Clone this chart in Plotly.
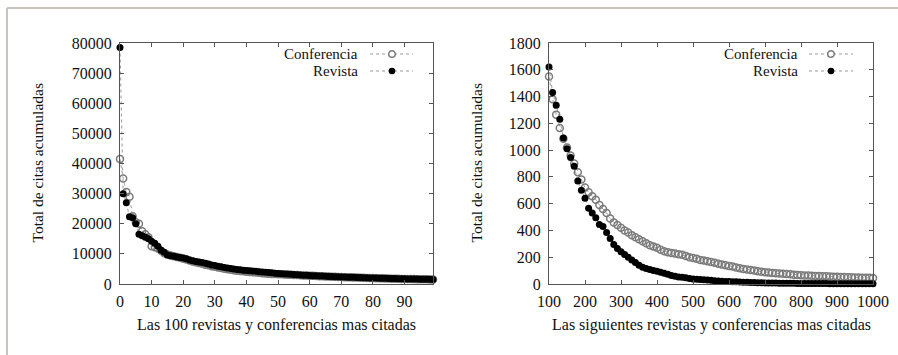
import plotly.graph_objects as go

W, H = 898, 355

# ---------- data ----------
left_x = list(range(0, 100))
left_conf = [41500, 35000, 30500, 29000, 22500, 20500, 20000, 17500, 16500, 15500,
             12500, 12200, 11800, 11000, 10200, 9800, 9500, 9200, 9000, 8700,
             8400, 8100, 7800, 7500, 7200, 7000, 6700, 6400, 6200, 5900,
             5700, 5500, 5300, 5100, 4900, 4700, 4550, 4400, 4300, 4200,
             4100, 4000, 3900, 3800, 3700, 3600, 3500, 3400, 3350, 3300,
             3250, 3200, 3150, 3100, 3050, 3000, 2950, 2900, 2850, 2800,
             2750, 2700, 2650, 2600, 2560, 2520, 2480, 2440, 2400, 2360,
             2320, 2280, 2240, 2200, 2160, 2120, 2080, 2050, 2020, 1990,
             1960, 1930, 1900, 1870, 1840, 1810, 1780, 1750, 1720, 1700,
             1680, 1660, 1640, 1620, 1600, 1580, 1560, 1540, 1520, 1500]
left_rev = [78500, 30000, 27000, 22300, 22000, 20000, 16500, 16000, 15500, 15000,
            14200, 13500, 12500, 11200, 10500, 9600, 9400, 9200, 9000, 8800,
            8600, 8400, 8000, 7700, 7500, 7300, 7100, 6900, 6600, 6300,
            6100, 5900, 5700, 5500, 5300, 5150, 5000, 4850, 4700, 4600,
            4500, 4400, 4300, 4200, 4100, 4000, 3900, 3800, 3700, 3600,
            3500, 3420, 3350, 3280, 3200, 3130, 3060, 3000, 2940, 2880,
            2820, 2770, 2720, 2670, 2620, 2570, 2520, 2480, 2440, 2400,
            2360, 2320, 2280, 2240, 2200, 2160, 2130, 2100, 2060, 2030,
            2000, 1970, 1940, 1910, 1880, 1850, 1820, 1790, 1760, 1740,
            1720, 1700, 1670, 1650, 1630, 1600, 1580, 1560, 1540, 1520]

right_x = list(range(100, 1001, 10))
right_conf = [1550, 1380, 1265, 1165, 1085, 1020, 960, 900, 835, 780,
              720, 685, 655, 630, 590, 560, 530, 490, 460, 440,
              420, 400, 385, 365, 350, 335, 320, 305, 290, 280,
              270, 255, 245, 238, 232, 228, 222, 218, 210, 200,
              195, 188, 180, 175, 170, 165, 158, 152, 146, 140,
              135, 130, 124, 118, 112, 108, 104, 100, 96, 92,
              88, 85, 82, 80, 78, 76, 74, 72, 70, 68,
              66, 64, 63, 62, 60, 59, 58, 57, 56, 55,
              54, 53, 52, 51, 50, 49, 48, 47, 46, 46, 45]
right_rev = [1620, 1430, 1335, 1230, 1090, 1010, 945, 880, 770, 700,
             640, 565, 530, 495, 445, 430, 385, 340, 295, 265,
             240, 220, 200, 180, 160, 140, 125, 115, 108, 100,
             95, 88, 80, 72, 64, 58, 53, 50, 46, 42,
             38, 36, 34, 32, 30, 28, 25, 23, 21, 19,
             18, 17, 16, 15, 14, 13, 12, 11, 10, 9,
             8, 8, 7, 7, 6, 6, 5, 5, 5, 4,
             4, 4, 4, 3, 3, 3, 3, 3, 2, 2,
             2, 2, 2, 2, 2, 1, 1, 1, 1, 1, 1]

left_xticks = [0, 10, 20, 30, 40, 50, 60, 70, 80, 90]
left_yticks = [0, 10000, 20000, 30000, 40000, 50000, 60000, 70000, 80000]
right_xticks = [100, 200, 300, 400, 500, 600, 700, 800, 900, 1000]
right_yticks = [0, 200, 400, 600, 800, 1000, 1200, 1400, 1600, 1800]

series_names = ["Conferencia", "Revista"]
ytitle = "Total de citas acumuladas"
xtitle_left = "Las 100 revistas y conferencias mas citadas"
xtitle_right = "Las siguientes revistas y conferencias mas citadas"

# ---------- style ----------
FONT = "Liberation Serif, Times New Roman, serif"
TXT = "#111111"
AXC = "#555555"
CONF_COLOR = "#7a7a7a"
REV_COLOR = "#000000"
LINE_COLOR = "#9a9a9a"


def px(x):
    return x / W


def py(y):
    return 1 - y / H


# plot areas in pixels
L = (120, 433)
R = (549, 873)
TOP, BOT = 43, 284

fig = go.Figure()


def add_series(x, y, xa, ya, conf):
    fig.add_trace(go.Scatter(
        x=x, y=y, xaxis=xa, yaxis=ya, mode="lines+markers",
        showlegend=False, cliponaxis=False,
        line=dict(color=LINE_COLOR, width=1, dash="dot"),
        marker=dict(
            symbol="circle-open" if conf else "circle",
            size=7,
            color=CONF_COLOR if conf else REV_COLOR,
            line=dict(width=1.5 if conf else 0, color=CONF_COLOR if conf else REV_COLOR),
        ),
    ))


add_series(left_x, left_conf, "x", "y", True)
add_series(left_x, left_rev, "x", "y", False)
add_series(right_x, right_conf, "x2", "y2", True)
add_series(right_x, right_rev, "x2", "y2", False)

axis_common = dict(
    showgrid=False, zeroline=False, showline=True, linecolor=AXC, linewidth=1,
    mirror="allticks", ticks="inside", ticklen=4, tickcolor=AXC, tickwidth=1,
    tickfont=dict(family=FONT, size=16, color=TXT), automargin=False,
)

fig.update_layout(
    width=W, height=H, margin=dict(l=0, r=0, t=0, b=0),
    paper_bgcolor="white", plot_bgcolor="white",
    xaxis=dict(domain=[px(L[0]), px(L[1])], range=[0, 99], tickvals=left_xticks,
               ticktext=[str(v) for v in left_xticks],
               anchor="y", ticklabelstandoff=3, **axis_common),
    yaxis=dict(domain=[py(BOT), py(TOP)], range=[0, 80000], tickvals=left_yticks,
               ticktext=[str(v) for v in left_yticks],
               anchor="x", ticklabelstandoff=4, **axis_common),
    xaxis2=dict(domain=[px(R[0]), px(R[1])], range=[100, 1000], tickvals=right_xticks,
                ticktext=[str(v) for v in right_xticks],
                anchor="y2", ticklabelstandoff=3, **axis_common),
    yaxis2=dict(domain=[py(BOT), py(TOP)], range=[0, 1800], tickvals=right_yticks,
                ticktext=[str(v) for v in right_yticks],
                anchor="x2", ticklabelstandoff=4, **axis_common),
    showlegend=False,
)

annotations = []
shapes = []

# axis titles
for (x0, x1), xt, ylab_x in [(L, xtitle_left, 37), (R, xtitle_right, 476)]:
    annotations.append(dict(
        text=xt, x=px((x0 + x1) / 2), y=py(325), xref="paper", yref="paper",
        showarrow=False, xanchor="center", yanchor="middle",
        font=dict(family=FONT, size=16, color=TXT)))
    annotations.append(dict(
        text=ytitle, x=px(ylab_x), y=py((TOP + BOT) / 2), xref="paper", yref="paper",
        showarrow=False, xanchor="center", yanchor="middle", textangle=-90,
        font=dict(family=FONT, size=15.5, color=TXT)))

# legends (gnuplot style: text then sample)
for text_right, s0, s1, mx in [(360, 370, 413, 392), (800, 809, 853, 831)]:
    for i, name in enumerate(series_names):
        yy = 54 + i * 17
        conf = (i == 0)
        annotations.append(dict(
            text=name, x=px(text_right), y=py(yy), xref="paper", yref="paper",
            showarrow=False, xanchor="right", yanchor="middle",
            font=dict(family=FONT, size=15, color=TXT)))
        shapes.append(dict(type="line", xref="paper", yref="paper",
                           x0=px(s0), x1=px(s1), y0=py(yy), y1=py(yy),
                           line=dict(color=LINE_COLOR, width=1, dash="dot")))
        r = 3.3
        shapes.append(dict(type="circle", xref="paper", yref="paper",
                           x0=px(mx - r), x1=px(mx + r), y0=py(yy + r), y1=py(yy - r),
                           fillcolor="white" if conf else REV_COLOR,
                           line=dict(color=CONF_COLOR if conf else REV_COLOR,
                                     width=1.5 if conf else 0)))

# outer page frame (top and left gray rules)
shapes.append(dict(type="line", xref="paper", yref="paper",
                   x0=px(7), x1=1, y0=py(8), y1=py(8),
                   line=dict(color="#c8c4bc", width=2)))
shapes.append(dict(type="line", xref="paper", yref="paper",
                   x0=px(7), x1=px(7), y0=py(8), y1=0,
                   line=dict(color="#c8c4bc", width=2)))

fig.update_layout(annotations=annotations, shapes=shapes)

fig.write_html("out.html")
